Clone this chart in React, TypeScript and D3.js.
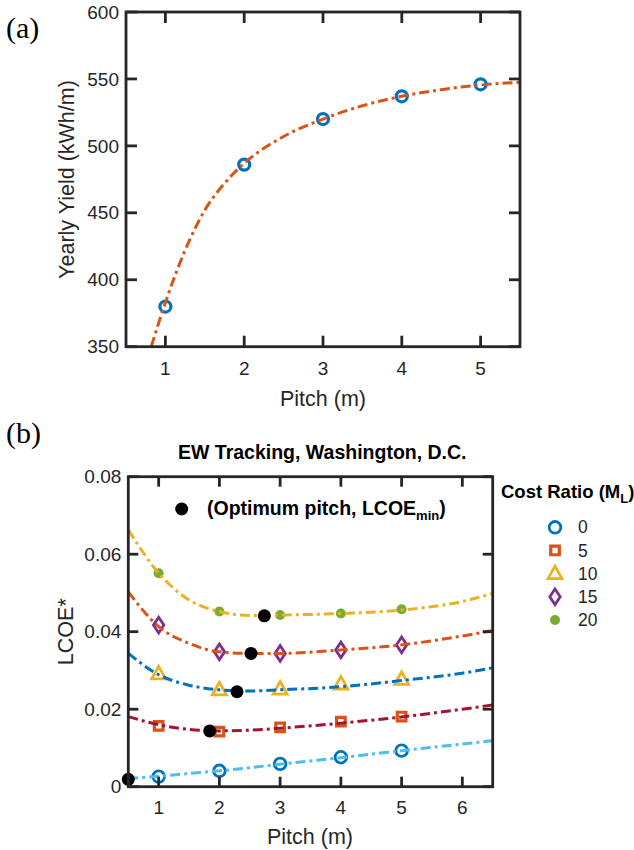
import React, { useRef, useEffect } from "react";
import * as d3 from "d3";

const WIDTH = 634;
const HEIGHT = 850;
const FONT = "'Liberation Sans', Arial, Helvetica, sans-serif";
const INK = "#262626";
const DASH = "10,4,3,4";

// (a) yearly yield vs pitch
const yieldPitch = [1, 2, 3, 4, 5];
const yieldValues = [380, 486, 520, 537, 546];
const yieldFitPitch = [0.82, 1, 1.25, 1.5, 1.75, 2, 2.5, 3, 3.5, 4, 4.5, 5, 5.5];
const yieldFitValues = [350, 383, 422, 452, 472, 487, 507, 520, 530, 537, 542, 545.5, 547.5];
const yieldTicksX = [1, 2, 3, 4, 5];
const yieldTicksY = [350, 400, 450, 500, 550, 600];

// (b) LCOE* vs pitch, one series per cost ratio
const costRatios = ["0", "5", "10", "15", "20"];
const lcoePitch = [1, 2, 3, 4, 5];
const lcoeM0 = [0.0026, 0.0041, 0.0059, 0.0076, 0.0093];
const lcoeM5 = [0.0157, 0.0142, 0.0153, 0.0168, 0.0181];
const lcoeM10 = [0.0291, 0.025, 0.0252, 0.0265, 0.0277];
const lcoeM15 = [0.0417, 0.0348, 0.0344, 0.0353, 0.0366];
const lcoeM20 = [0.0551, 0.0452, 0.0443, 0.0447, 0.0458];

const fitPitch = [0.5, 1, 1.5, 2, 2.5, 3, 4, 5, 6, 6.5];
const fitM0 = [0.0021, 0.0027, 0.0034, 0.0041, 0.0049, 0.0058, 0.0075, 0.0093, 0.011, 0.0119];
const fitM5 = [0.0181, 0.016, 0.0148, 0.0144, 0.0146, 0.0151, 0.0164, 0.018, 0.02, 0.0211];
const fitM10 = [0.0344, 0.0289, 0.0262, 0.025, 0.0247, 0.025, 0.0258, 0.0274, 0.0293, 0.0307];
const fitM15 = [0.0503, 0.0413, 0.037, 0.0348, 0.0344, 0.0344, 0.0353, 0.0366, 0.0389, 0.0403];
const fitM20 = [0.0663, 0.0551, 0.0482, 0.0452, 0.0442, 0.0443, 0.0447, 0.0456, 0.0478, 0.0499];

const optPitch = [0.5, 1.84, 2.29, 2.52, 2.74];
const optLcoe = [0.0019, 0.0144, 0.0245, 0.0344, 0.0441];

const lcoeTicksX = [1, 2, 3, 4, 5, 6];
const lcoeTicksY = [0, 0.02, 0.04, 0.06, 0.08];

const series = [
  { marks: lcoeM0, fit: fitM0, shape: "circle", mark: "#0072BD", line: "#4DBEEE" },
  { marks: lcoeM5, fit: fitM5, shape: "square", mark: "#D95319", line: "#A2142F" },
  { marks: lcoeM10, fit: fitM10, shape: "triangle", mark: "#EDB120", line: "#0072BD" },
  { marks: lcoeM15, fit: fitM15, shape: "diamond", mark: "#7E2F8E", line: "#D95319" },
  { marks: lcoeM20, fit: fitM20, shape: "dot", mark: "#77AC30", line: "#EDB120" },
];

function markerPath(shape) {
  switch (shape) {
    case "square":
      return "M-4.3,-4.3H4.3V4.3H-4.3Z";
    case "triangle":
      return "M0,-7.5L7,5H-7Z";
    case "diamond":
      return "M0,-7.8L5.2,0L0,7.8L-5.2,0Z";
    case "dot":
      return d3.symbol(d3.symbolCircle, Math.PI * 5 * 5)();
    default:
      return d3.symbol(d3.symbolCircle, Math.PI * 5.8 * 5.8)();
  }
}

function drawMarker(g, shape, color, px, py) {
  const filled = shape === "dot";
  g.append("path")
    .attr("d", markerPath(shape))
    .attr("transform", `translate(${px},${py})`)
    .attr("fill", filled ? color : "none")
    .attr("stroke", filled ? "none" : color)
    .attr("stroke-width", shape === "square" ? 3.2 : 2.8);
}

function drawFrame(svg, x, y, xTicks, yTicks, fmt, tickLen, labelGap) {
  const [x0, x1] = x.range();
  const [y0, y1] = y.range();
  const g = svg.append("g").attr("stroke", INK).attr("stroke-width", 2.8);
  xTicks.forEach((t) => {
    g.append("line").attr("x1", x(t)).attr("x2", x(t)).attr("y1", y0).attr("y2", y0 - tickLen);
    g.append("line").attr("x1", x(t)).attr("x2", x(t)).attr("y1", y1).attr("y2", y1 + tickLen);
  });
  yTicks.forEach((t) => {
    g.append("line").attr("x1", x0).attr("x2", x0 + tickLen).attr("y1", y(t)).attr("y2", y(t));
    g.append("line").attr("x1", x1).attr("x2", x1 - tickLen).attr("y1", y(t)).attr("y2", y(t));
  });
  g.append("rect")
    .attr("x", x0)
    .attr("y", y1)
    .attr("width", x1 - x0)
    .attr("height", y0 - y1)
    .attr("fill", "none");

  const lab = svg.append("g").attr("font-family", FONT).attr("font-size", 19).attr("fill", INK);
  xTicks.forEach((t) => {
    lab.append("text")
      .attr("x", x(t))
      .attr("y", y0 + labelGap)
      .attr("text-anchor", "middle")
      .attr("dy", "0.35em")
      .text(t);
  });
  yTicks.forEach((t) => {
    lab.append("text")
      .attr("x", x0 - 7)
      .attr("y", y(t))
      .attr("text-anchor", "end")
      .attr("dy", "0.35em")
      .text(fmt(t));
  });
}

export default function App() {
  const ref = useRef(null);

  useEffect(() => {
    const svg = d3.select(ref.current);
    svg.selectAll("*").remove();

    // ---------- (a) ----------
    const xa = d3.scaleLinear().domain([0.5, 5.5]).range([126, 520]);
    const ya = d3.scaleLinear().domain([350, 600]).range([346.7, 12]);

    svg.append("clipPath").attr("id", "clipA")
      .append("rect").attr("x", 126).attr("y", 12).attr("width", 394).attr("height", 334.7);

    svg.append("text")
      .attr("x", 6).attr("y", 38)
      .attr("font-family", "'Liberation Serif', 'Times New Roman', serif")
      .attr("font-size", 30)
      .attr("fill", "#000")
      .text("(a)");

    const gA = svg.append("g");
    yieldPitch.forEach((p, i) => {
      gA.append("circle")
        .attr("cx", xa(p)).attr("cy", ya(yieldValues[i])).attr("r", 5.5)
        .attr("fill", "none").attr("stroke", "#0072BD").attr("stroke-width", 3.2);
    });
    const lineA = d3.line()
      .x((d) => xa(d[0]))
      .y((d) => ya(d[1]))
      .curve(d3.curveMonotoneX);
    gA.append("path")
      .datum(yieldFitPitch.map((p, i) => [p, yieldFitValues[i]]))
      .attr("clip-path", "url(#clipA)")
      .attr("fill", "none")
      .attr("stroke", "#D95319")
      .attr("stroke-width", 3)
      .attr("stroke-dasharray", DASH)
      .attr("d", lineA);

    drawFrame(svg, xa, ya, yieldTicksX, yieldTicksY, (t) => String(t), 11, 22);

    svg.append("text")
      .attr("x", 323).attr("y", 398).attr("dy", "0.35em")
      .attr("text-anchor", "middle")
      .attr("font-family", FONT).attr("font-size", 21.5).attr("fill", INK)
      .text("Pitch (m)");
    svg.append("text")
      .attr("transform", "translate(66.7,179.5) rotate(-90)")
      .attr("dy", "0.35em")
      .attr("text-anchor", "middle")
      .attr("font-family", FONT).attr("font-size", 21.5).attr("fill", INK)
      .text("Yearly Yield (kWh/m)");

    // ---------- (b) ----------
    const xb = d3.scaleLinear().domain([0.5, 6.5]).range([128.3, 492.7]);
    const yb = d3.scaleLinear().domain([0, 0.08]).range([786.7, 476.7]);

    svg.append("clipPath").attr("id", "clipB")
      .append("rect").attr("x", 128.3).attr("y", 476.7).attr("width", 364.4).attr("height", 310);

    svg.append("text")
      .attr("x", 6).attr("y", 443)
      .attr("font-family", "'Liberation Serif', 'Times New Roman', serif")
      .attr("font-size", 30)
      .attr("fill", "#000")
      .text("(b)");

    svg.append("text")
      .attr("x", 178).attr("y", 459)
      .attr("font-family", FONT).attr("font-size", 19.5).attr("font-weight", "bold")
      .attr("fill", "#000")
      .text("EW Tracking, Washington, D.C.");

    const gB = svg.append("g");
    const lineB = d3.line()
      .x((d) => xb(d[0]))
      .y((d) => yb(d[1]))
      .curve(d3.curveMonotoneX);

    series.forEach((s) => {
      lcoePitch.forEach((p, i) => drawMarker(gB, s.shape, s.mark, xb(p), yb(s.marks[i])));
    });
    series.forEach((s) => {
      gB.append("path")
        .datum(fitPitch.map((p, i) => [p, s.fit[i]]))
        .attr("clip-path", "url(#clipB)")
        .attr("fill", "none")
        .attr("stroke", s.line)
        .attr("stroke-width", 3)
        .attr("stroke-dasharray", DASH)
        .attr("d", lineB);
    });
    optPitch.forEach((p, i) => {
      gB.append("circle")
        .attr("cx", xb(p)).attr("cy", yb(optLcoe[i])).attr("r", 6.5).attr("fill", "#000");
    });

    drawFrame(svg, xb, yb, lcoeTicksX, lcoeTicksY, (t) => (t === 0 ? "0" : d3.format(".2f")(t)), 10, 21);

    svg.append("text")
      .attr("x", 310).attr("y", 836.7).attr("dy", "0.35em")
      .attr("text-anchor", "middle")
      .attr("font-family", FONT).attr("font-size", 21.5).attr("fill", INK)
      .text("Pitch (m)");
    svg.append("text")
      .attr("transform", "translate(65,631.7) rotate(-90)")
      .attr("dy", "0.35em")
      .attr("text-anchor", "middle")
      .attr("font-family", FONT).attr("font-size", 21.5).attr("fill", INK)
      .text("LCOE*");

    // legend inside the axes: optimum marker
    svg.append("circle").attr("cx", 181.7).attr("cy", 509).attr("r", 6.5).attr("fill", "#000");
    const opt = svg.append("text")
      .attr("x", 207).attr("y", 515)
      .attr("font-family", FONT).attr("font-size", 19.5).attr("font-weight", "bold")
      .attr("fill", "#000");
    opt.append("tspan").text("(Optimum pitch, LCOE");
    opt.append("tspan").attr("font-size", 13).attr("dy", 5).text("min");
    opt.append("tspan").attr("dy", -5).text(")");

    // legend outside: cost ratio
    const leg = svg.append("text")
      .attr("x", 501).attr("y", 498)
      .attr("font-family", FONT).attr("font-size", 18.5).attr("font-weight", "bold")
      .attr("fill", "#000");
    leg.append("tspan").text("Cost Ratio (M");
    leg.append("tspan").attr("font-size", 13).attr("dy", 5).text("L");
    leg.append("tspan").attr("dy", -5).text(")");

    const rowY = d3.scalePoint().domain(costRatios).range([527.3, 620]);
    series.forEach((s, i) => {
      const cy = rowY(costRatios[i]);
      drawMarker(svg, s.shape, s.mark, 555, cy);
      svg.append("text")
        .attr("x", 578).attr("y", cy).attr("dy", "0.35em")
        .attr("font-family", FONT).attr("font-size", 17.5).attr("fill", INK)
        .text(costRatios[i]);
    });
  }, []);

  return (
    <svg
      ref={ref}
      width={WIDTH}
      height={HEIGHT}
      style={{ position: "absolute", left: 0, top: 0, background: "#fff" }}
    />
  );
}
